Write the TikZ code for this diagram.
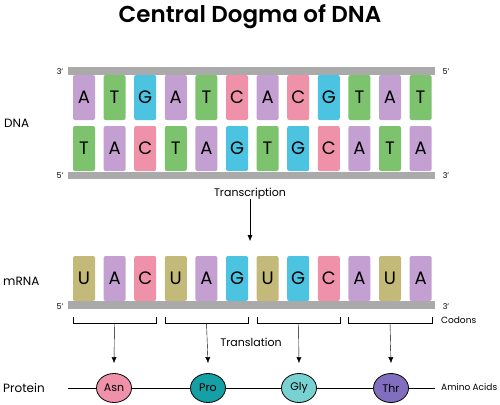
\documentclass[tikz,border=0pt]{standalone}
\usepackage{fontspec}
\setmainfont{Poppins}
\newfontfamily\titlefont{Poppins SemiBold}
\usetikzlibrary{arrows.meta, positioning, shapes.geometric}
\definecolor{baseA}{RGB}{196, 160, 210}
\definecolor{baseT}{RGB}{125, 195, 110}
\definecolor{baseG}{RGB}{75, 195, 225}
\definecolor{baseC}{RGB}{240, 145, 170}
\definecolor{baseU}{RGB}{195, 185, 120}
\definecolor{backbone}{RGB}{170, 170, 170}
\definecolor{asncol}{RGB}{240, 145, 170}
\definecolor{procol}{RGB}{20, 160, 165}
\definecolor{glycol}{RGB}{120, 210, 210}
\definecolor{thrcol}{RGB}{130, 110, 190}

\begin{document}
\begin{tikzpicture}[x=1pt, y=-1pt,
    nucleotide/.style={rounded corners=2pt, minimum width=22pt, minimum height=45pt, inner sep=0pt, font=\fontsize{18}{18}\selectfont},
    aminoacid/.style={ellipse, draw=black, thick, minimum width=35pt, minimum height=29pt, inner sep=0pt, font=\fontsize{11}{11}\selectfont},
    endlabel/.style={font=\fontsize{8}{8}\selectfont, inner sep=0pt},
    sidelabel/.style={font=\fontsize{9}{9}\selectfont, inner sep=0pt, anchor=west},
    rowlabel/.style={font=\fontsize{12}{12}\selectfont, anchor=west, inner sep=0pt},
    pointer/.style={-{Latex[length=6pt, width=5pt]}, thin}]
    \useasboundingbox (0,0) rectangle (500,404);

    % Title
    \node[font=\fontsize{23}{23}\titlefont] (title) at (250,17) {Central Dogma of DNA};

    % DNA backbones
    \fill[backbone] (68,67) rectangle (435,75);
    \fill[backbone] (68,172) rectangle (435,179);
    \node[endlabel] (dnatl) at (60,72) {3'};
    \node[endlabel] (dnatr) at (446,72) {5'};
    \node[endlabel] (dnabl) at (60,176) {5'};
    \node[endlabel] (dnabr) at (446,176) {3'};
    \node[rowlabel] (dna) at (4,123) {DNA};

    % DNA bases
    \foreach \b [count=\i from 0] in {A,T,G,A,T,C,A,C,G,T,A,T} {
        \node[nucleotide, fill=base\b] (top\i) at (84+30.6*\i, 97.5) {\b};
    }
    \foreach \b [count=\i from 0] in {T,A,C,T,A,G,T,G,C,A,T,A} {
        \node[nucleotide, fill=base\b] (bot\i) at (84+30.6*\i, 148.5) {\b};
    }

    % Transcription
    \node[font=\fontsize{11}{11}\selectfont] (transcription) at (250,194) {Transcription};
    \coordinate (mrnatop) at (250,241);
    \draw[pointer] (transcription.south) ++(0,-4) -- (mrnatop);

    % mRNA
    \fill[backbone] (68,301) rectangle (435,309);
    \node[endlabel] (mrnal) at (60,307) {5'};
    \node[endlabel] (mrnar) at (446,307) {3'};
    \node[rowlabel] (mrna) at (3,281) {mRNA};
    \foreach \b [count=\i from 0] in {U,A,C,U,A,G,U,G,C,A,U,A} {
        \node[nucleotide, fill=base\b] (rna\i) at (84+30.6*\i, 278.5) {\b};
    }

    % Codons
    \foreach \l/\r/\c in {73/156/1, 165/248/2, 257/340/3, 348/432/4} {
        \draw[thin] (\l,317) -- (\l,323) -- (\r,323) -- (\r,317);
        \coordinate (codon\c) at ({(\l+\r)/2},323);
    }
    \node[sidelabel] (codons) at (441,320) {Codons};
    \node[font=\fontsize{11}{11}\selectfont] (translation) at (251,342) {Translation};

    % Protein
    \node[rowlabel] (protein) at (3,388) {Protein};
    \coordinate (chainl) at (68,388);
    \coordinate (chainr) at (435,388);
    \node[aminoacid, fill=asncol] (asn) at (114,388) {Asn};
    \node[aminoacid, fill=procol] (pro) at (208,388) {Pro};
    \node[aminoacid, fill=glycol] (gly) at (299,388) {Gly};
    \node[aminoacid, fill=thrcol] (thr) at (391,388) {Thr};
    \draw[thick] (chainl) -- (asn) -- (pro) -- (gly) -- (thr) -- (chainr);
    \node[sidelabel] (aminoacids) at (441,387) {Amino Acids};

    % Codon to amino acid
    \draw[pointer] (codon1) -- ([yshift=10pt]asn.north);
    \draw[pointer] (codon2) -- ([yshift=10pt]pro.north);
    \draw[pointer] (codon3) -- ([yshift=10pt]gly.north);
    \draw[pointer] (codon4) -- ([yshift=10pt]thr.north);
\end{tikzpicture}
\end{document}
